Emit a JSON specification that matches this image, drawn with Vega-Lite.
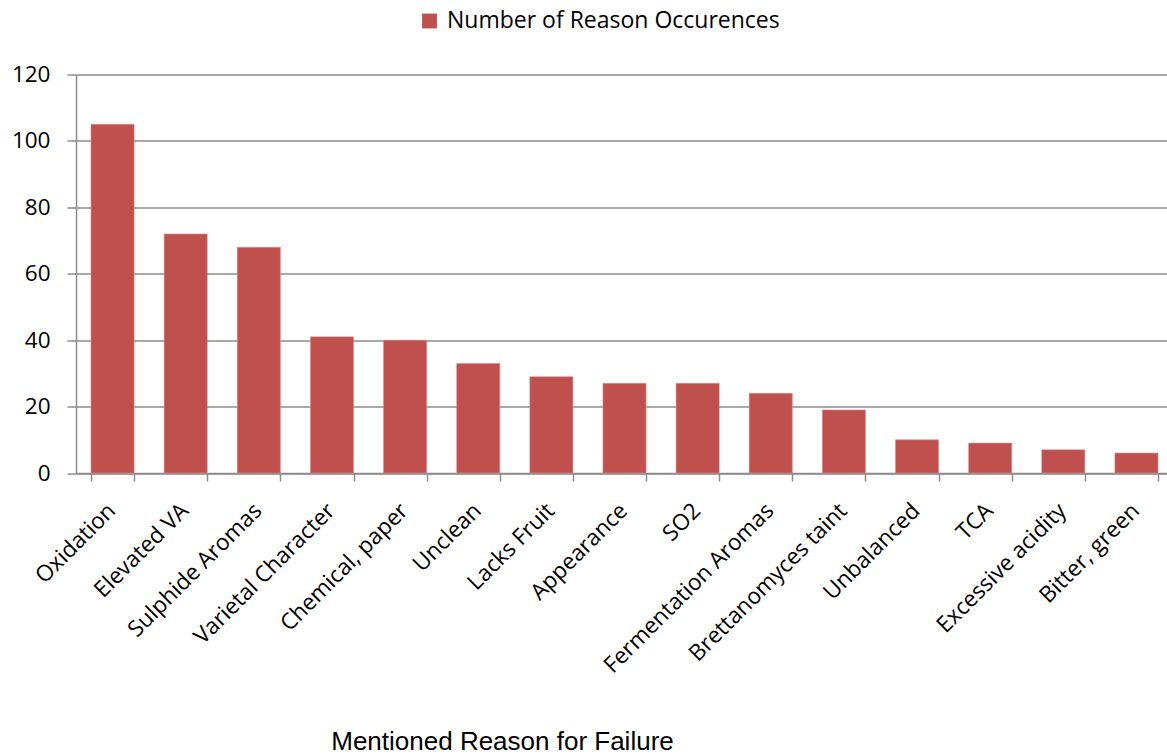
{
  "$schema": "https://vega.github.io/schema/vega-lite/v6.json",
  "autosize": "none",
  "padding": {"left": 76, "top": 74.5, "right": 0, "bottom": 282},
  "width": 1097,
  "height": 398.5,
  "background": "white",
  "data": {"values": [
    {"reason": "Oxidation", "count": 105},
    {"reason": "Elevated VA", "count": 72},
    {"reason": "Sulphide Aromas", "count": 68},
    {"reason": "Varietal Character", "count": 41},
    {"reason": "Chemical, paper", "count": 40},
    {"reason": "Unclean", "count": 33},
    {"reason": "Lacks Fruit", "count": 29},
    {"reason": "Appearance", "count": 27},
    {"reason": "SO2", "count": 27},
    {"reason": "Fermentation Aromas", "count": 24},
    {"reason": "Brettanomyces taint", "count": 19},
    {"reason": "Unbalanced", "count": 10},
    {"reason": "TCA", "count": 9},
    {"reason": "Excessive acidity", "count": 7},
    {"reason": "Bitter, green", "count": 6}
  ]},
  "transform": [{"calculate": "'Number of Reason Occurences'", "as": "series"}],
  "mark": {"type": "bar", "stroke": "#d99694", "strokeWidth": 0.6},
  "encoding": {
    "x": {
      "field": "reason", "type": "nominal", "sort": null,
      "scale": {"paddingInner": 0.41, "paddingOuter": 0.205},
      "axis": {
        "title": "Mentioned Reason for Failure",
        "titleFont": "Liberation Sans", "titleFontSize": 26, "titleFontWeight": "normal", "titleColor": "#000",
        "titleX": 426, "titleY": 268, "titleBaseline": "middle", "titleAnchor": "middle",
        "labelAngle": -45, "labelAlign": "right", "labelBaseline": "top",
        "labelFont": "Open Sans", "labelFontSize": 22.5, "labelColor": "#000", "labelPadding": 18, "labelLimit": 0,
        "labelOffset": -9,
        "tickBand": "extent", "tickSize": 8, "tickColor": "#8c8c8c", "tickWidth": 1.5,
        "domainColor": "#8c8c8c", "domainWidth": 1.5, "grid": false
      }
    },
    "y": {
      "field": "count", "type": "quantitative",
      "scale": {"domain": [0, 120]},
      "axis": {
        "title": null, "values": [0, 20, 40, 60, 80, 100, 120],
        "labelFont": "Open Sans", "labelFontSize": 22.5, "labelColor": "#000", "labelPadding": 17,
        "tickSize": 9, "tickColor": "#8c8c8c", "tickWidth": 1.5,
        "domainColor": "#8c8c8c", "domainWidth": 1.5,
        "grid": true, "gridColor": "#8c8c8c", "gridWidth": 1.5
      }
    },
    "color": {
      "field": "series", "type": "nominal",
      "scale": {"range": ["#c0504d"]},
      "legend": {
        "title": null, "orient": "none", "legendX": 342, "legendY": -65,
        "symbolType": "square", "symbolSize": 220, "symbolStrokeWidth": 0,
        "labelFont": "Open Sans", "labelFontSize": 23, "labelColor": "#000", "labelOffset": 6, "labelLimit": 0
      }
    }
  },
  "config": {"view": {"stroke": null}}
}
